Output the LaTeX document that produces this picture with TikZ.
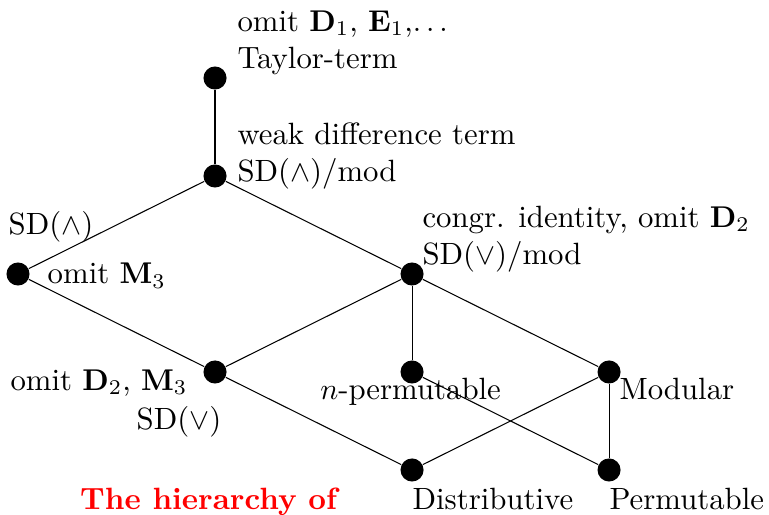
\documentclass[tikz,border=0pt]{standalone}
\usepackage{amsmath}
\tikzset{
  dot/.style={circle,fill=black,inner sep=0pt,minimum size=0.27cm},
  lbl/.style={inner sep=0pt,align=left}
}
\begin{document}
\fontsize{10.25}{12.3}\selectfont
\begin{tikzpicture}[x=2.306cm,y=1.147cm]
\useasboundingbox (-0.0914,-0.459) rectangle (3.812,4.796);
% the lattice points
\foreach \n/\x/\y in {taylor/1/4, weakdiff/1/3, sdmeet/0/2, congid/2/2, sdjoin/1/1,
    nperm/2/1, modular/3/1, distrib/2/0, permut/3/0} {
  \node[dot] (\n) at (\x,\y) {};
}
% covering edges
\foreach \a/\b in {taylor/weakdiff, weakdiff/sdmeet, weakdiff/congid, sdmeet/sdjoin,
    sdjoin/congid, sdjoin/distrib, congid/nperm, congid/modular, nperm/permut,
    modular/distrib, modular/permut} {
  \draw[line width=0.35pt] (\a) -- (\b);
}
% labels
\node[lbl,anchor=base west] (taylorlbl) at ([shift={(7.3pt,3.3pt)}]taylor.center)
  {omit $\mathbf{D}_1$, $\mathbf{E}_1$,$\ldots$\\Taylor-term};
\node[lbl,anchor=base west] (weaklbl) at ([shift={(7.3pt,-1.7pt)}]weakdiff.center)
  {weak difference term\\SD($\wedge$)/mod};
\node[lbl,anchor=base west] (sdmeetlbl) at ([shift={(-3.3pt,13.3pt)}]sdmeet.center)
  {SD($\wedge$)};
\node[lbl,anchor=base west] (omitmlbl) at ([shift={(9.7pt,-3.3pt)}]sdmeet.center)
  {omit $\mathbf{M}_3$};
\node[lbl,anchor=base west] (conglbl) at ([shift={(3.3pt,3.3pt)}]congid.center)
  {congr. identity, omit $\mathbf{D}_2$\\SD($\vee$)/mod};
\node[lbl,anchor=base east] (omitdmlbl) at ([shift={(-9pt,-6pt)}]sdjoin.center)
  {omit $\mathbf{D}_2$, $\mathbf{M}_3$};
\node[lbl,anchor=base east] (sdjoinlbl) at ([shift={(2.3pt,-19.3pt)}]sdjoin.center)
  {SD($\vee$)};
\node[lbl,anchor=base] (npermlbl) at ([shift={(-0.5pt,-9.3pt)}]nperm.center)
  {$n$-permutable};
\node[lbl,anchor=base west] (modlbl) at ([shift={(3.3pt,-9.3pt)}]modular.center)
  {Modular};
\node[lbl,anchor=base west] (distlbl) at ([shift={(0pt,-13.3pt)}]distrib.center)
  {Distributive};
\node[lbl,anchor=base west] (permlbl) at ([shift={(0pt,-13.3pt)}]permut.center)
  {Permutable};
\node[lbl,anchor=base west,text=red,font=\bfseries] (title)
  at ([shift={(-110.7pt,-13.3pt)}]distrib.center) {The hierarchy of};
\end{tikzpicture}
\end{document}
